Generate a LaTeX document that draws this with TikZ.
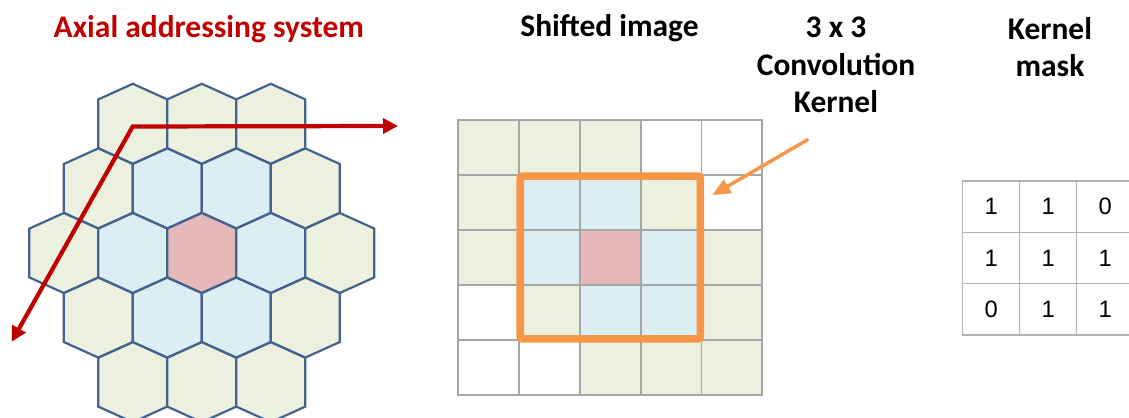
\documentclass[tikz,border=0pt]{standalone}
\usepackage{fontspec}
\setmainfont{Carlito}
\newfontfamily\maskfont{Liberation Sans}
\usepackage{xcolor}
\usepackage{tikz}
\usetikzlibrary{arrows.meta, positioning, fit, calc}

\definecolor{hexgreen}{RGB}{235,241,222}
\definecolor{hexblue}{RGB}{218,238,243}
\definecolor{hexpink}{RGB}{230,185,184}
\definecolor{hexedge}{RGB}{68,98,142}
\definecolor{gridgray}{RGB}{166,166,166}
\definecolor{kernelorange}{RGB}{247,150,70}
\definecolor{axisred}{RGB}{192,0,0}
\colorlet{sqg}{hexgreen}
\colorlet{sqb}{hexblue}
\colorlet{sqp}{hexpink}
\colorlet{sqw}{white}

\begin{document}
\begin{tikzpicture}[x=0.02cm, y=-0.02cm,
			title/.style={font=\fontsize{17.9}{21.3}\selectfont\bfseries, align=center, inner sep=0},
			hexcell/.style={draw=hexedge, line width=1.25pt, line join=miter},
			cell/.style={rectangle, draw=gridgray, line width=1pt, minimum width=1.216cm,
				minimum height=1.1cm, inner sep=0},
			maskcell/.style={rectangle, draw=gridgray!85, line width=0.8pt, minimum width=1.14cm,
				minimum height=1.026cm, inner sep=0, font=\maskfont\fontsize{13.5}{16}\selectfont},
			kbox/.style={draw=kernelorange, line width=4.4pt, rounded corners=1.5pt},
			axis/.style={{Triangle[length=0.3cm, width=0.3cm]}-{Triangle[length=0.3cm, width=0.3cm]},
				draw=axisred, line width=2.4pt, line join=miter},
			karr/.style={-{Triangle[length=0.36cm, width=0.3cm]}, draw=kernelorange, line width=2pt}
			]
			\useasboundingbox (0,0) rectangle (1129,418);
			\clip (0,0) rectangle (1129,418);
			
			\node[title, text=axisred, anchor=base] (axtitle) at (208.8,38) {Axial addressing system};
			\node[title, anchor=base] (shtitle) at (609.5,37) {Shifted image};
			\node[title, anchor=north] (kntitle) at (836,17) {3 x 3\\Convolution\\Kernel};
			\node[title, anchor=north] (mktitle) at (1050,17) {Kernel\\mask};
			
			% hexagonal image, coloured by axial distance from the centre
			\begin{scope}[shift={(201.8,253)}]
				\foreach \r in {-2,...,2} {
					\pgfmathtruncatemacro\n{5-abs(\r)}
					\foreach \i in {1,...,\n} {
						\pgfmathsetmacro\dx{\i-(\n+1)/2}
						\pgfmathtruncatemacro\d{round((abs(\dx-\r/2)+abs(\r)+abs(\dx+\r/2))/2)}
						\ifcase\d \def\hexfill{hexpink}\or \def\hexfill{hexblue}\else \def\hexfill{hexgreen}\fi
						\coordinate (hex\r\i) at (69*\dx, 64.6*\r);
						\draw[hexcell, fill=\hexfill] (hex\r\i) ++(0,-40) -- ++(34.5,15.6) -- ++(0,48.8)
							-- ++(-34.5,15.6) -- ++(-34.5,-15.6) -- ++(0,-48.8) -- cycle;
					}
				}
			\end{scope}
			
			\coordinate (axorigin) at (132.7,126.5);
			\coordinate (qend) at (398,126);
			\coordinate (rend) at (11.7,341.7);
			\draw[axis] (rend) -- (axorigin) -- (qend);
			
			% shifted square image
			\foreach \cols [count=\r from 0] in {{g,g,g,w,w},{g,b,b,g,w},{g,b,p,b,g},{w,g,b,b,g},{w,w,g,g,g}}
				\foreach \c [count=\k from 0] in \cols
					\node[cell, fill=sq\c] (sq\r\k) at (488.7+60.8*\k, 147.5+55*\r) {};
			
			\node[kbox, fit=(sq11)(sq33), inner sep=-0.04cm] (kernel) {};
			\coordinate (ktail) at (808.3,139.3);
			\draw[karr] (ktail) -- ($(kernel.north east)+(8,23)$);
			
			% kernel mask
			\foreach \vals [count=\r from 0] in {{1,1,0},{1,1,1},{0,1,1}}
				\foreach \v [count=\k from 0] in \vals
					\node[maskcell] (mk\r\k) at (991.2+57*\k, 206.65+51.3*\r) {\v};
		\end{tikzpicture}
\end{document}
